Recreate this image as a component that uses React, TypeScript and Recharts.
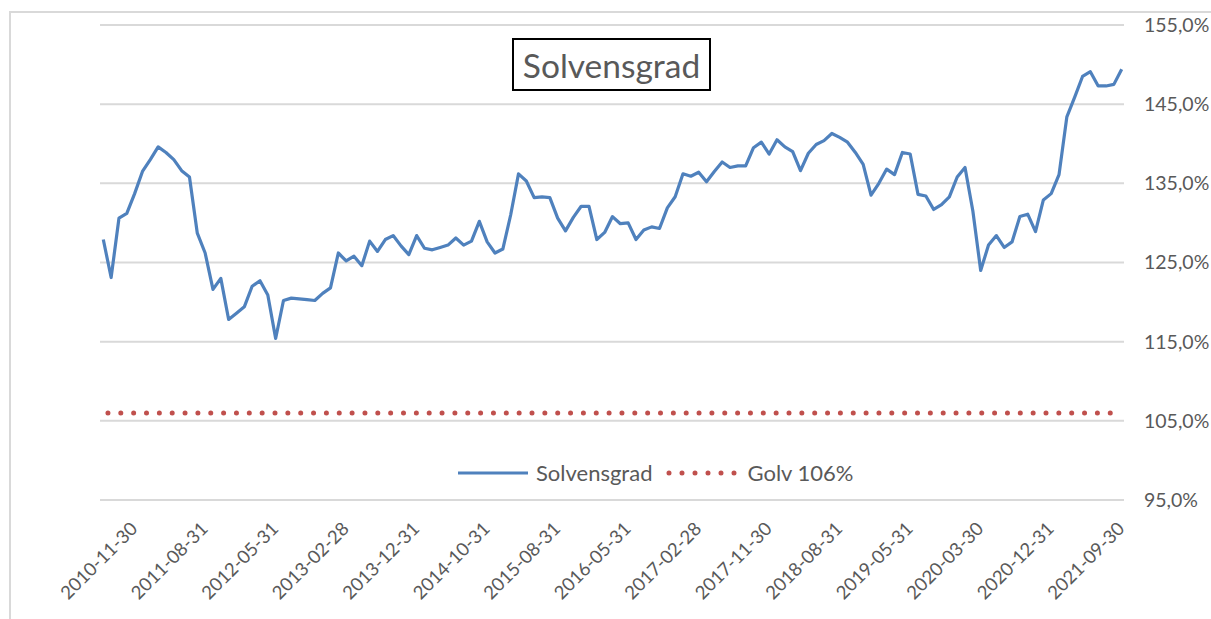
import React from "react";
import { LineChart, Line, XAxis, YAxis, CartesianGrid } from "recharts";

const dates: string[] = [
  "2010-07-31","2010-08-31","2010-09-30","2010-10-31","2010-11-30","2010-12-31",
  "2011-01-31","2011-02-28","2011-03-31","2011-04-30","2011-05-31","2011-06-30","2011-07-31","2011-08-31","2011-09-30","2011-10-31","2011-11-30","2011-12-31",
  "2012-01-31","2012-02-29","2012-03-31","2012-04-30","2012-05-31","2012-06-30","2012-07-31","2012-08-31","2012-09-30","2012-10-31","2012-11-30","2012-12-31",
  "2013-01-31","2013-02-28","2013-03-31","2013-04-30","2013-05-31","2013-06-30","2013-08-31","2013-09-30","2013-10-31","2013-11-30","2013-12-31",
  "2014-01-31","2014-02-28","2014-03-31","2014-04-30","2014-05-31","2014-06-30","2014-08-31","2014-09-30","2014-10-31","2014-11-30","2014-12-31",
  "2015-01-31","2015-02-28","2015-03-31","2015-04-30","2015-05-31","2015-06-30","2015-08-31","2015-09-30","2015-10-31","2015-11-30","2015-12-31",
  "2016-01-31","2016-02-29","2016-03-31","2016-04-30","2016-05-31","2016-06-30","2016-07-31","2016-08-31","2016-09-30","2016-10-31","2016-11-30","2016-12-31",
  "2017-01-31","2017-02-28","2017-03-31","2017-04-30","2017-05-31","2017-06-30","2017-07-31","2017-08-31","2017-09-30","2017-10-31","2017-11-30","2017-12-31",
  "2018-01-31","2018-02-28","2018-03-31","2018-04-30","2018-05-31","2018-06-30","2018-07-31","2018-08-31","2018-09-30","2018-10-31","2018-11-30","2018-12-31",
  "2019-01-31","2019-02-28","2019-03-31","2019-04-30","2019-05-31","2019-06-30","2019-07-31","2019-08-31","2019-09-30","2019-10-31","2019-11-30","2019-12-31",
  "2020-01-31","2020-03-30","2020-04-30","2020-05-31","2020-06-30","2020-07-31","2020-08-31","2020-09-30","2020-10-31","2020-11-30","2020-12-31",
  "2021-01-31","2021-02-28","2021-03-31","2021-04-30","2021-05-31","2021-06-30","2021-07-31","2021-08-31","2021-09-30",
];

const solvensgrad: number[] = [
  127.9, 123.1, 130.6, 131.2, 133.7, 136.5, 138.0, 139.6, 138.9, 138.0,
  136.6, 135.8, 128.7, 126.2, 121.6, 123.0, 117.8, 118.6, 119.4, 122.0,
  122.7, 120.9, 115.4, 120.2, 120.5, 120.4, 120.3, 120.2, 121.1, 121.8,
  126.2, 125.2, 125.8, 124.6, 127.7, 126.4, 127.9, 128.4, 127.1, 126.0,
  128.4, 126.8, 126.6, 126.9, 127.2, 128.1, 127.2, 127.7, 130.2, 127.6,
  126.2, 126.7, 131.0, 136.2, 135.3, 133.2, 133.3, 133.2, 130.6, 129.0,
  130.7, 132.1, 132.1, 127.9, 128.8, 130.8, 129.9, 130.0, 127.9, 129.1,
  129.5, 129.3, 131.9, 133.3, 136.2, 135.9, 136.4, 135.2, 136.5, 137.7,
  137.0, 137.2, 137.2, 139.5, 140.2, 138.7, 140.5, 139.6, 139.0, 136.6,
  138.8, 139.9, 140.4, 141.3, 140.8, 140.2, 138.9, 137.4, 133.5, 135.0,
  136.8, 136.1, 138.9, 138.7, 133.6, 133.4, 131.7, 132.3, 133.3, 135.8,
  137.0, 131.5, 124.0, 127.2, 128.4, 126.9, 127.6, 130.8, 131.1, 128.9,
  132.9, 133.7, 136.1, 143.4, 145.9, 148.5, 149.1, 147.3, 147.3, 147.5,
  149.4,
];

const golvValue = 106;

const xTickLabels: string[] = [
  "2010-11-30","2011-08-31","2012-05-31","2013-02-28","2013-12-31","2014-10-31","2015-08-31",
  "2016-05-31","2017-02-28","2017-11-30","2018-08-31","2019-05-31","2020-03-30","2020-12-31","2021-09-30",
];

const yTicks: number[] = [95, 105, 115, 125, 135, 145, 155];

const seriesNames = { solvens: "Solvensgrad", golv: "Golv 106%" };
const titleText = "Solvensgrad";

const data = dates.map((d, i) => ({ date: d, solvens: solvensgrad[i], golv: golvValue }));

const FONT = "Lato, 'Noto Sans', sans-serif";
const TEXT = "#595959";
const BLUE = "#4F81BD";
const RED = "#C0504D";

const XTick = (props: any) => {
  const { x, y, payload } = props;
  return (
    <g transform={`translate(${x + 4},${y + 30})`}>
      <text
        textAnchor="end"
        transform="rotate(-45)"
        fill={TEXT}
        fontSize={18.5}
        fontFamily={FONT}
      >
        {payload.value}
      </text>
    </g>
  );
};

const fmtY = (v: number) => v.toFixed(1).replace(".", ",") + "%";

export default function App() {
  return (
    <div style={{ position: "absolute", left: 0, top: 0, width: 1211, height: 619, background: "#fff" }}>
      <div
        style={{
          position: "absolute",
          left: 9,
          top: 11,
          width: 1202,
          height: 608,
          borderTop: "2px solid #d9d9d9",
          borderLeft: "2px solid #d9d9d9",
          boxSizing: "border-box",
        }}
      />
      <div style={{ position: "absolute", left: 0, top: 0 }}>
        <LineChart
          width={1211}
          height={619}
          data={data}
          margin={{ top: 25, right: 0, bottom: 0, left: 100 }}
        >
          <CartesianGrid vertical={false} stroke="#d9d9d9" strokeWidth={2} />
          <XAxis
            dataKey="date"
            type="category"
            ticks={xTickLabels}
            interval={0}
            height={119}
            axisLine={false}
            tickLine={false}
            tickSize={0}
            tickMargin={0}
            padding={{ left: 3.3, right: 2.3 }}
            tick={<XTick />}
          />
          <YAxis
            orientation="right"
            width={87}
            domain={[95, 155]}
            ticks={yTicks}
            interval={0}
            axisLine={false}
            tickLine={false}
            tickSize={0}
            tickMargin={20}
            tickFormatter={fmtY}
            tick={{ fill: TEXT, fontSize: 19.5, fontFamily: FONT, textAnchor: "start" }}
          />
          <Line
            type="linear"
            dataKey="golv"
            name={seriesNames.golv}
            stroke={RED}
            strokeWidth={5}
            strokeLinecap="round"
            strokeDasharray="0 12.85"
            strokeDashoffset={8.2}
            dot={false}
            activeDot={false}
            isAnimationActive={false}
          />
          <Line
            type="linear"
            dataKey="solvens"
            name={seriesNames.solvens}
            stroke={BLUE}
            strokeWidth={3.2}
            strokeLinejoin="round"
            dot={false}
            activeDot={false}
            isAnimationActive={false}
          />
        </LineChart>
      </div>
      <div
        style={{
          position: "absolute",
          left: 457,
          top: 459,
          display: "flex",
          alignItems: "center",
          fontFamily: FONT,
          fontSize: 22,
          color: TEXT,
          whiteSpace: "nowrap",
        }}
      >
        <svg width={72} height={10} style={{ marginRight: 7 }}>
          <line x1={1} y1={5} x2={71} y2={5} stroke={BLUE} strokeWidth={3} />
        </svg>
        <span style={{ marginRight: 14 }}>{seriesNames.solvens}</span>
        <svg width={72} height={10} style={{ marginRight: 9 }}>
          <line x1={3} y1={5} x2={68.5} y2={5} stroke={RED} strokeWidth={5} strokeLinecap="round" strokeDasharray="0 13" />
        </svg>
        <span>{seriesNames.golv}</span>
      </div>
      <div
        style={{
          position: "absolute",
          left: 512,
          top: 38,
          width: 199,
          height: 53,
          border: "2px solid #000",
          boxSizing: "border-box",
          display: "flex",
          alignItems: "center",
          justifyContent: "center",
          fontFamily: FONT,
          fontSize: 33.5,
          color: TEXT,
          background: "#fff",
        }}
      >
        {titleText}
      </div>
    </div>
  );
}
